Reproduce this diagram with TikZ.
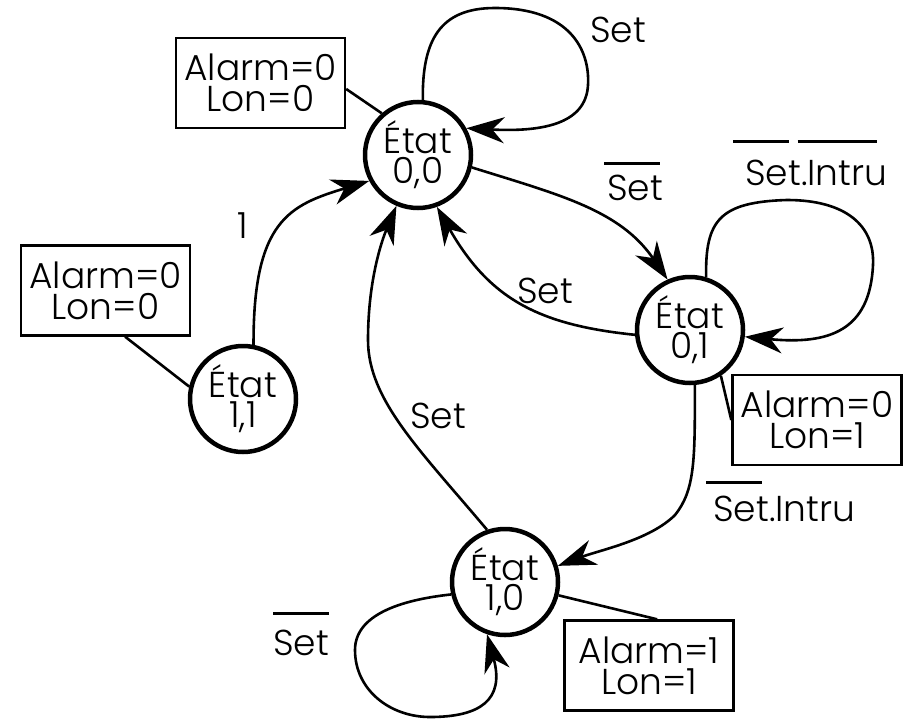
\documentclass[tikz,border=0pt]{standalone}
\usepackage{fontspec}
\setmainfont{Poppins}[UprightFont=* Light]
\usetikzlibrary{arrows.meta}
\newcommand\ovl[3][0pt]{\leavevmode\setbox0\hbox{#3}\vbox{\moveleft#1\hbox to\wd0{\leaders\hrule height 2.4pt\hfill}\nointerlineskip\kern#2\box0}}
\begin{document}
\begin{tikzpicture}[x=1pt,y=-1pt,
  state/.style={circle,draw,line width=4.5pt,minimum size=106pt,inner sep=0pt,align=center,font=\fontsize{36}{30}\selectfont},
  outbox/.style={draw,line width=2.4pt,minimum width=169pt,minimum height=90pt,inner sep=0pt,align=center,font=\fontsize{36}{31}\selectfont},
  edge/.style={line width=2.6pt},
  arr/.style={edge,-{Stealth[length=38pt,width=26pt,inset=12pt]}},
  lbl/.style={inner sep=0pt,anchor=base west,font=\fontsize{36}{31}\selectfont}]
\useasboundingbox (0,0) rectangle (909,720);

\node[state] (s00) at (418,155) {État\\0,0};
\node[state] (s01) at (690,330) {État\\0,1};
\node[state] (s11) at (243,399) {État\\1,1};
\node[state] (s10) at (505,582) {État\\1,0};

\node[outbox] (b00) at (260.5,83) {Alarm=0\\Lon=0};
\node[outbox] (b11) at (105.5,290.5) {Alarm=0\\Lon=0};
\node[outbox] (b01) at (817,420) {Alarm=0\\Lon=1};
\node[outbox] (b10) at (649,665.5) {Alarm=1\\Lon=1};

\draw[edge] (b00.-4) -- (s00.131);
\draw[edge] (b11.-67) -- (s11.167);
\draw[edge] (s01.-56) -- (b01.west);
\draw[edge] (s10.-14) -- (b10.80);

\draw[arr] (s11.79) .. controls (253,220) and (290,205) .. (s00.208);
\draw[arr] (s10.109) .. controls (420,450) and (368,400) .. (368,340) .. controls (368,280) and (382,240) .. (s00.247);
\draw[arr] (s01.185) .. controls (540,325) and (490,300) .. (s00.290);
\draw[arr] (s00.-13) .. controls (560,195) and (620,210) .. (s01.114);
\draw[arr] (s01.-85) .. controls (695,460) and (695,490) .. (675,515) .. controls (650,540) and (600,550) .. (s10.17);

\draw[arr] (s00.85) .. controls (422,40) and (440,8) .. (495,8) .. controls (570,8) and (590,50) .. (588,85) .. controls (586,125) and (540,132) .. (s00.29);
\draw[arr] (s01.73) .. controls (705,220) and (720,202) .. (787,200) .. controls (845,200) and (875,225) .. (873,265) .. controls (870,330) and (830,345) .. (s01.-7);
\draw[arr] (s10.193) .. controls (400,600) and (355,615) .. (355,650) .. controls (355,690) and (390,717) .. (430,717) .. controls (480,717) and (505,700) .. (s10.251);

\node[lbl] (l1) at (590,42) {Set};
\node[lbl] (l2) at (607,200) {\ovl[3pt]{10pt}{Set}};
\node[lbl] (l3) at (517,303) {Set};
\node[lbl] (l4) at (745,185) {\ovl[12pt]{17pt}{Set}.\ovl[10pt]{17pt}{Intru}};
\node[lbl] (l5) at (713,521) {\ovl[7pt]{12pt}{Set}.Intru};
\node[lbl] (l6) at (410,428) {Set};
\node[lbl] (l7) at (237,238) {1};
\node[lbl] (l8) at (273,655) {\ovl{15pt}{Set}};
\end{tikzpicture}
\end{document}
